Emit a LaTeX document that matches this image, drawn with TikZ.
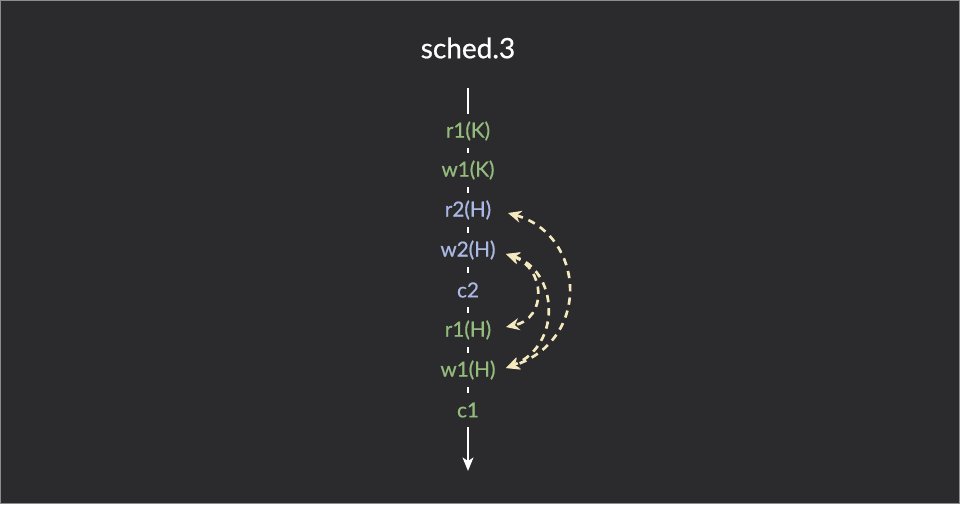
\documentclass[tikz,border=0pt]{standalone}
\usepackage{fontspec}
\setmainfont{Lato}
\newfontfamily\medfont[FakeBold=0.7]{Lato}
\usetikzlibrary{arrows.meta,calc}
\definecolor{bg}{HTML}{2B2A2C}
\definecolor{frame}{HTML}{8C8C8C}
\definecolor{tgreen}{HTML}{93BB7C}
\definecolor{tblue}{HTML}{AAB9E3}
\definecolor{cream}{HTML}{F5E9BF}
\begin{document}
\begin{tikzpicture}[x=0.75pt,y=-0.75pt,
  op/.style={inner sep=0pt, minimum height=24.5pt, font=\medfont\fontsize{15.5}{17}\selectfont},
  gop/.style={op, text=tgreen},
  bop/.style={op, text=tblue},
  timeline/.style={white, line width=1.8pt},
  conflict/.style={cream, line width=2pt, dash pattern=on 5.5pt off 4.5pt,
    {Stealth[length=10pt,width=9pt,inset=3.2pt]}-{Stealth[length=10pt,width=9pt,inset=3.2pt]}}
]
\fill[bg] (0,0) rectangle (960,504);
\draw[frame, line width=0.9pt] (0.6,0.6) rectangle (959.4,503.4);
\useasboundingbox (0,0) rectangle (960,504);

\node[white, font=\medfont\fontsize{21}{24}\selectfont] (title) at (468,48) {sched.3};

\coordinate (top) at (468,88);
\coordinate (bottom) at (468,471);
\node[gop] (r1K) at (468,131) {r1(K)};
\node[gop] (w1K) at (468,170) {w1(K)};
\node[bop] (r2H) at (468,210) {r2(H)};
\node[bop] (w2H) at (468,250) {w2(H)};
\node[bop] (c2)  at (468,290) {c2};
\node[gop] (r1H) at (468,330) {r1(H)};
\node[gop] (w1H) at (468,370) {w1(H)};
\node[gop] (c1)  at (468,410) {c1};

\draw[timeline] (top) -- (r1K);
\draw[timeline] (r1K) -- (w1K);
\draw[timeline] (w1K) -- (r2H);
\draw[timeline] (r2H) -- (w2H);
\draw[timeline] (w2H) -- (c2);
\draw[timeline] (c2) -- (r1H);
\draw[timeline] (r1H) -- (w1H);
\draw[timeline] (w1H) -- (c1);
\draw[timeline, -{Stealth[length=10pt,width=8pt,inset=2.5pt]}] (c1) -- (bottom);

\draw[conflict] ($(r2H.center)+(40,3)$) .. controls (585,235) and (592,340) .. ($(w1H.center)+(38,-2)$);
\draw[conflict] ($(w2H.center)+(38,4)$) .. controls (558,270) and (563,345) .. ($(w1H.center)+(38,-2)$);
\draw[conflict] ($(w2H.center)+(38,4)$) .. controls (545,268) and (548,318) .. ($(r1H.center)+(38,-3)$);
\end{tikzpicture}
\end{document}
